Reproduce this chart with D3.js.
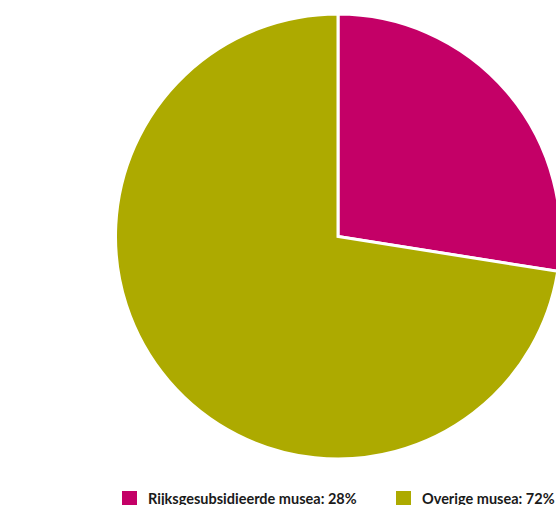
<!DOCTYPE html>
<html><head><meta charset="utf-8">
<script src="https://cdn.jsdelivr.net/npm/d3@7"></script>
<style>body{margin:0;background:#fff;overflow:hidden}svg{display:block}</style>
</head><body>
<script>
const categories = ["Rijksgesubsidieerde musea", "Overige musea"];
const values = [27.5, 72.5];
const valueLabels = ["28%", "72%"];
const colors = ["#c40067", "#adaa00"];

const W = 556, H = 505;
const svg = d3.select("body").append("svg").attr("width", W).attr("height", H);
const cx = 338, cy = 236.5, R = 222.5;
const pie = d3.pie().sort(null).value(d => d)(values);
const arc = d3.arc().innerRadius(0).outerRadius(R);
svg.append("g").attr("transform", `translate(${cx},${cy})`)
  .selectAll("path").data(pie).join("path")
  .attr("d", arc).attr("fill", (d, i) => colors[i])
  .attr("stroke", "#fff").attr("stroke-width", 3).attr("stroke-linejoin", "miter");

const legendX = [122, 396];
const lg = svg.append("g");
categories.forEach((c, i) => {
  const g = lg.append("g").attr("transform", `translate(${legendX[i]},491)`);
  g.append("rect").attr("width", 15).attr("height", 15).attr("fill", colors[i]);
  g.append("text").attr("x", 26).attr("y", 12.5)
    .attr("font-family", "Lato, 'Open Sans', sans-serif").attr("font-weight", 700)
    .attr("font-size", 14.5).attr("fill", "#1a1a1a")
    .text(`${c}: ${valueLabels[i]}`);
});
</script>
</body></html>
